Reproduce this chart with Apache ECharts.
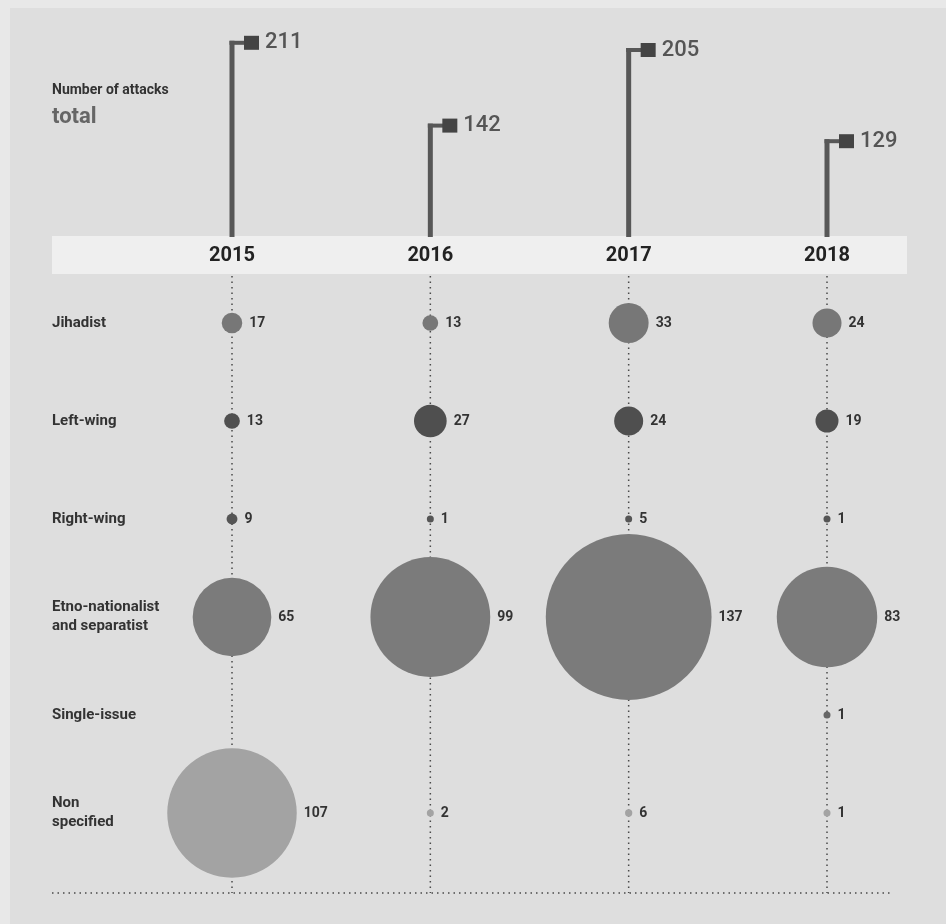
<!DOCTYPE html>
<html>
<head>
<meta charset="utf-8">
<script src="https://cdn.jsdelivr.net/npm/echarts@6/dist/echarts.min.js"></script>
<style>
  html, body { margin: 0; padding: 0; background: #e8e8e8; }
  #main { width: 946px; height: 924px; }
</style>
</head>
<body>
<div id="main"></div>
<script>
const years = ['2015', '2016', '2017', '2018'];
const totals = [211, 142, 205, 129];
const groups = ['Jihadist', 'Left-wing', 'Right-wing', 'Etno-nationalist\nand separatist', 'Single-issue', 'Non\nspecified'];
const jihadist = [17, 13, 33, 24];
const leftWing = [13, 27, 24, 19];
const rightWing = [9, 1, 5, 1];
const etno = [65, 99, 137, 83];
const singleIssue = [null, null, null, 1];
const nonSpecified = [107, 2, 6, 1];
const groupColors = ['#777777', '#4f4f4f', '#555555', '#7b7b7b', '#666666', '#a3a3a3'];

const rows = [jihadist, leftWing, rightWing, etno, singleIssue, nonSpecified];
const font = 'Roboto, "Noto Sans", sans-serif';

const chart = echarts.init(document.getElementById('main'));

const bubbleSeries = rows.map(function (vals, r) {
  const data = [];
  vals.forEach(function (v, i) {
    if (v !== null) data.push([i, r, v]);
  });
  return {
    type: 'scatter',
    xAxisIndex: 1,
    yAxisIndex: 1,
    z: 3,
    data: data,
    symbolSize: function (d) { return Math.max(7, d[2] * 1.21); },
    itemStyle: { color: groupColors[r], opacity: 1 },
    label: {
      show: true,
      position: 'right',
      distance: 7,
      formatter: function (p) { return p.value[2]; },
      fontFamily: font,
      fontWeight: 'bold',
      fontSize: 14,
      color: '#333'
    },
    emphasis: { disabled: true }
  };
});

chart.setOption({
  backgroundColor: '#e8e8e8',
  animation: false,
  graphic: [
    { type: 'rect', z: -10, shape: { x: 10, y: 8, width: 936, height: 916 }, style: { fill: '#dedede' } },
    { type: 'rect', z: -5, shape: { x: 52, y: 236, width: 855, height: 38 }, style: { fill: '#efefef' } },
    { type: 'line', z: -4, shape: { x1: 52, y1: 893, x2: 892, y2: 893 },
      style: { stroke: '#4a4a4a', lineWidth: 1.5, lineDash: [1.5, 4] } },
    { type: 'text', left: 52, top: 83,
      style: { text: 'Number of attacks', font: 'bold 14px ' + font, fill: '#333' } },
    { type: 'text', left: 52, top: 106,
      style: { text: 'total', font: 'bold 22px ' + font, fill: '#666' } }
  ],
  grid: [
    { left: 232, right: 119, top: 32, bottom: 688 },
    { left: 232, right: 119, top: 323, bottom: 111 }
  ],
  xAxis: [
    {
      gridIndex: 0, type: 'category', data: years, boundaryGap: false,
      axisLine: { show: false }, axisTick: { show: false },
      axisLabel: { margin: 10, fontFamily: font, fontWeight: 'bold', fontSize: 20, color: '#222' }
    },
    {
      gridIndex: 1, type: 'category', data: years, boundaryGap: false, show: false
    }
  ],
  yAxis: [
    { gridIndex: 0, type: 'value', min: 50, max: 220, show: false },
    {
      gridIndex: 1, type: 'category', data: groups, inverse: true, boundaryGap: false,
      axisLine: { show: false }, axisTick: { show: false }, splitLine: { show: false },
      axisLabel: {
        align: 'left', margin: 180, fontFamily: font, fontWeight: 'bold',
        fontSize: 15, lineHeight: 19, color: '#333'
      }
    }
  ],
  series: [
    {
      type: 'custom',
      xAxisIndex: 0,
      yAxisIndex: 0,
      data: totals.map(function (v, i) { return [i, v]; }),
      renderItem: function (params, api) {
        const base = api.coord([api.value(0), 50]);
        const top = api.coord([api.value(0), api.value(1)]);
        const x = base[0], yb = base[1] + 1, yt = top[1];
        return {
          type: 'group',
          children: [
            { type: 'line', shape: { x1: x, y1: yb, x2: x, y2: yt - 2 },
              style: { stroke: '#575757', lineWidth: 5 } },
            { type: 'line', shape: { x1: x - 2.5, y1: yt, x2: x + 13, y2: yt },
              style: { stroke: '#575757', lineWidth: 4 } },
            { type: 'rect', shape: { x: x + 12, y: yt - 7, width: 15, height: 14 },
              style: { fill: '#444' } },
            { type: 'text', x: x + 33, y: yt,
              style: { text: String(api.value(1)), font: '500 22px ' + font, fill: '#555',
                verticalAlign: 'middle', align: 'left' } }
          ]
        };
      }
    },
    {
      type: 'custom',
      xAxisIndex: 1,
      yAxisIndex: 1,
      z: 1,
      data: years.map(function (y, i) { return [i, 0]; }),
      renderItem: function (params, api) {
        const p = api.coord([api.value(0), 0]);
        return {
          type: 'line',
          shape: { x1: p[0], y1: 276, x2: p[0], y2: 893 },
          style: { stroke: '#4a4a4a', lineWidth: 1.5, lineDash: [1.5, 4] }
        };
      }
    }
  ].concat(bubbleSeries)
});
</script>
</body>
</html>
